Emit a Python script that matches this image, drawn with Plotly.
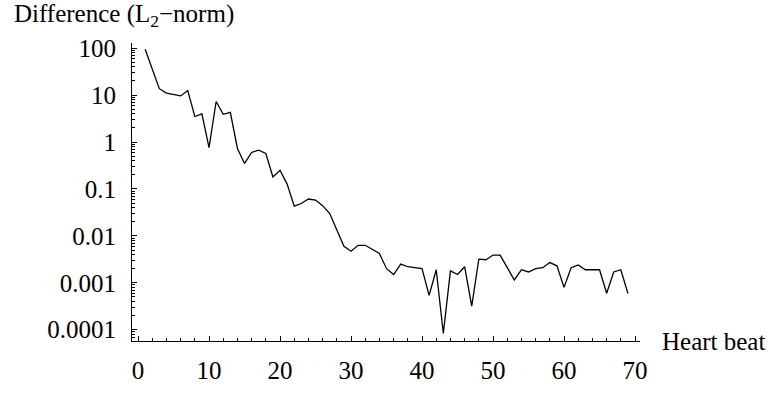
import plotly.graph_objects as go

# ---- data ----
beats = list(range(1, 70))
difference = [
    95, 36, 13.7, 11, 10.3, 9.6, 12.5, 3.5, 4.0, 0.76,
    7.3, 3.9, 4.3, 0.73, 0.35, 0.6, 0.67, 0.57, 0.18, 0.25,
    0.127, 0.043, 0.049, 0.061, 0.058, 0.044, 0.030, 0.0134, 0.006, 0.0047,
    0.0063, 0.0063, 0.0051, 0.0042, 0.0020, 0.0015, 0.0025, 0.0022, 0.0021, 0.0020,
    0.00054, 0.0019, 0.000083, 0.0018, 0.0015, 0.0022, 0.00032, 0.0032, 0.0031, 0.0039,
    0.0039, 0.0021, 0.00115, 0.0019, 0.0017, 0.0020, 0.0021, 0.0027, 0.0023, 0.0008,
    0.0021, 0.0024, 0.0019, 0.0019, 0.0019, 0.0006, 0.0017, 0.0019, 0.00059,
]

x_tick_vals = [0, 10, 20, 30, 40, 50, 60, 70]
x_tick_text = ["0", "10", "20", "30", "40", "50", "60", "70"]
x_minor_vals = [v for v in range(0, 71, 2) if v % 10 != 0]

y_tick_vals = [1e-4, 1e-3, 1e-2, 1e-1, 1, 10, 100]
y_tick_text = ["0.0001", "0.001", "0.01", "0.1", "1", "10", "100"]
y_minor_vals = [m * d for d in [1e-5, 1e-4, 1e-3, 1e-2, 1e-1, 1, 10] for m in range(2, 10)]

y_title = "Difference (L<sub>2</sub>\u2212norm)"
x_title = "Heart beat"

FONT = "Liberation Serif"

fig = go.Figure()
fig.add_trace(go.Scatter(
    x=beats, y=difference, mode="lines",
    line=dict(color="black", width=1.3),
    showlegend=False, hoverinfo="skip",
))

fig.update_layout(
    width=772, height=396,
    margin=dict(l=132, r=132, t=43, b=39, pad=0),
    paper_bgcolor="white", plot_bgcolor="white",
    font=dict(family=FONT, size=25, color="black"),
    xaxis=dict(
        range=[-0.85, 70.7],
        showgrid=False, zeroline=False,
        showline=True, linecolor="black", linewidth=1,
        ticks="inside", ticklen=5, tickwidth=1, tickcolor="black",
        tickmode="array", tickvals=x_tick_vals, ticktext=x_tick_text,
        ticklabelstandoff=7,
        minor=dict(tickmode="array", tickvals=x_minor_vals, ticks="inside",
                   ticklen=3, tickwidth=1, tickcolor="black", showgrid=False),
    ),
    yaxis=dict(
        type="log", range=[-4.24, 2.11],
        showgrid=False, zeroline=False,
        showline=True, linecolor="black", linewidth=1,
        ticks="inside", ticklen=5, tickwidth=1, tickcolor="black",
        tickmode="array", tickvals=y_tick_vals, ticktext=y_tick_text,
        ticklabelstandoff=10,
        minor=dict(tickmode="array", tickvals=y_minor_vals, ticks="inside",
                   ticklen=3, tickwidth=1, tickcolor="black", showgrid=False),
    ),
    annotations=[
        dict(text=y_title, xref="paper", yref="paper",
             x=(12 - 132) / 508, y=1 + (43 - 14) / 314,
             xanchor="left", yanchor="middle", showarrow=False,
             font=dict(family=FONT, size=25, color="black")),
        dict(text=x_title, xref="paper", yref="paper",
             x=(660 - 132) / 508, y=0,
             xanchor="left", yanchor="middle", showarrow=False,
             font=dict(family=FONT, size=25, color="black")),
    ],
)

fig.write_html("out.html")
